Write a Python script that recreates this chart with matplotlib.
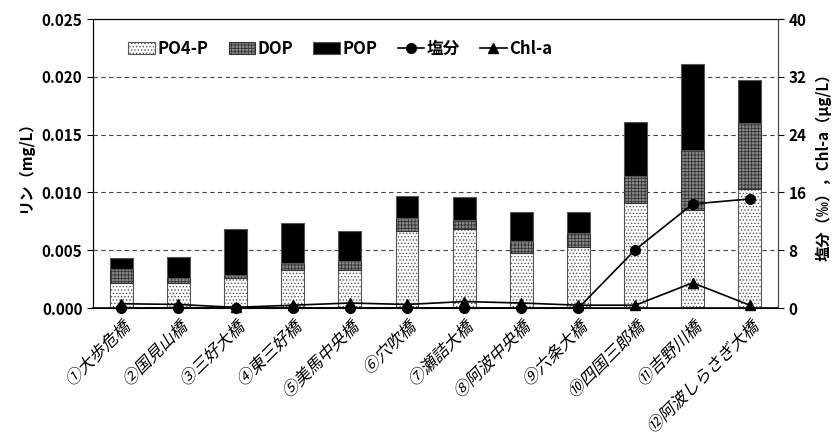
import matplotlib
matplotlib.use('Agg')
import matplotlib.pyplot as plt
from matplotlib.patheffects import AbstractPathEffect
from matplotlib.transforms import Affine2D
import numpy as np

plt.rcParams['font.family'] = ['Noto Sans CJK JP', 'DejaVu Sans']
plt.rcParams['hatch.linewidth'] = 0.6

#%% data
sites = ['①大歩危橋', '②国見山橋', '③三好大橋', '④東三好橋', '⑤美馬中央橋', '⑥穴吹橋',
         '⑦瀬詰大橋', '⑧阿波中央橋', '⑨六条大橋', '⑩四国三郎橋', '⑪吉野川橋', '⑫阿波しらさぎ大橋']
po4p = [0.0022, 0.0022, 0.0026, 0.0033, 0.0033, 0.0067, 0.0068, 0.0048, 0.0053, 0.0091, 0.0085, 0.0103]
dop  = [0.0012, 0.0004, 0.0003, 0.0006, 0.0008, 0.0011, 0.0008, 0.0010, 0.0012, 0.0023, 0.0052, 0.0057]
pop  = [0.0009, 0.0018, 0.0039, 0.0035, 0.0026, 0.0019, 0.0020, 0.0025, 0.0018, 0.0047, 0.0074, 0.0037]
salt = [0.0, 0.0, 0.0, 0.0, 0.0, 0.0, 0.0, 0.0, 0.0, 8.1, 14.4, 15.1]
chla = [0.6, 0.5, 0.1, 0.4, 0.7, 0.5, 0.9, 0.7, 0.4, 0.4, 3.5, 0.4]


class Slant(AbstractPathEffect):
    # fake italic: shear glyph path before its own transform
    def draw_path(self, renderer, gc, tpath, affine, rgbFace=None):
        renderer.draw_path(gc, tpath, Affine2D().skew_deg(14, 0) + affine, rgbFace)


#%% plot
fig = plt.figure(figsize=(8.36, 4.42), dpi=100)
ax = fig.add_axes([0.111, 0.303, 0.82, 0.654])
x = np.arange(len(sites))
w = 0.4

b1 = ax.bar(x, po4p, w, color='white', edgecolor='#555555', hatch='.....', linewidth=0.8, label='PO4-P', zorder=2)
b2 = ax.bar(x, dop, w, bottom=po4p, color='#8a8a8a', edgecolor='#333333', hatch='+++++',
            linewidth=0.8, label='DOP', zorder=2)
b3 = ax.bar(x, pop, w, bottom=np.array(po4p) + np.array(dop), color='black', edgecolor='#555555',
            linewidth=0.8, label='POP', zorder=2)

ax.set_ylim(0, 0.025)
ax.set_yticks(np.arange(0, 0.0251, 0.005))
ax.set_yticklabels(['%.3f' % v for v in np.arange(0, 0.0251, 0.005)], fontweight='bold', fontsize=11)
ax.yaxis.grid(True, linestyle=(0, (4, 3)), color='#444444', linewidth=0.8, zorder=0)
ax.set_axisbelow(True)
ax.set_xlim(-0.5, len(sites) - 0.5)
ax.set_xticks(x)
ax.set_xticklabels(sites, rotation=45, ha='right', rotation_mode='anchor', fontsize=12)
for t in ax.get_xticklabels():
    t.set_path_effects([Slant()])
ax.tick_params(axis='x', length=0, pad=8)
ax.tick_params(axis='y', length=4, width=0.8)
ax.set_ylabel('リン（mg/L）', fontweight='bold', fontsize=11, labelpad=6)
for s in ['left', 'bottom', 'right', 'top']:
    ax.spines[s].set_color('#444444')
    ax.spines[s].set_linewidth(0.8)
ax.spines['bottom'].set_color('black')
ax.spines['bottom'].set_linewidth(1.2)

ax2 = ax.twinx()
ax2.set_ylim(0, 40)
ax2.set_yticks(np.arange(0, 41, 8))
ax2.set_yticklabels([str(v) for v in range(0, 41, 8)], fontweight='bold', fontsize=11)
ax2.tick_params(axis='y', length=4, width=0.8)
l1, = ax2.plot(x, salt, '-o', color='black', markersize=7, linewidth=1.2, label='塩分', clip_on=False)
l2, = ax2.plot(x, chla, '-^', color='black', markersize=7, linewidth=1.2, label='Chl-a', clip_on=False)
ax2.set_ylabel('塩分（‰），Chl-a（μg/L）', fontweight='bold', fontsize=11, labelpad=6)
ax2.spines['right'].set_color('#444444')

ax.legend([b1, b2, b3, l1, l2], ['PO4-P', 'DOP', 'POP', '塩分', 'Chl-a'], loc='upper left',
          ncol=5, frameon=False, prop={'weight': 'bold', 'size': 12}, bbox_to_anchor=(0.03, 0.98),
          handlelength=1.6, handletextpad=0.15, columnspacing=1.2)

fig.savefig('out.png', dpi=100)
